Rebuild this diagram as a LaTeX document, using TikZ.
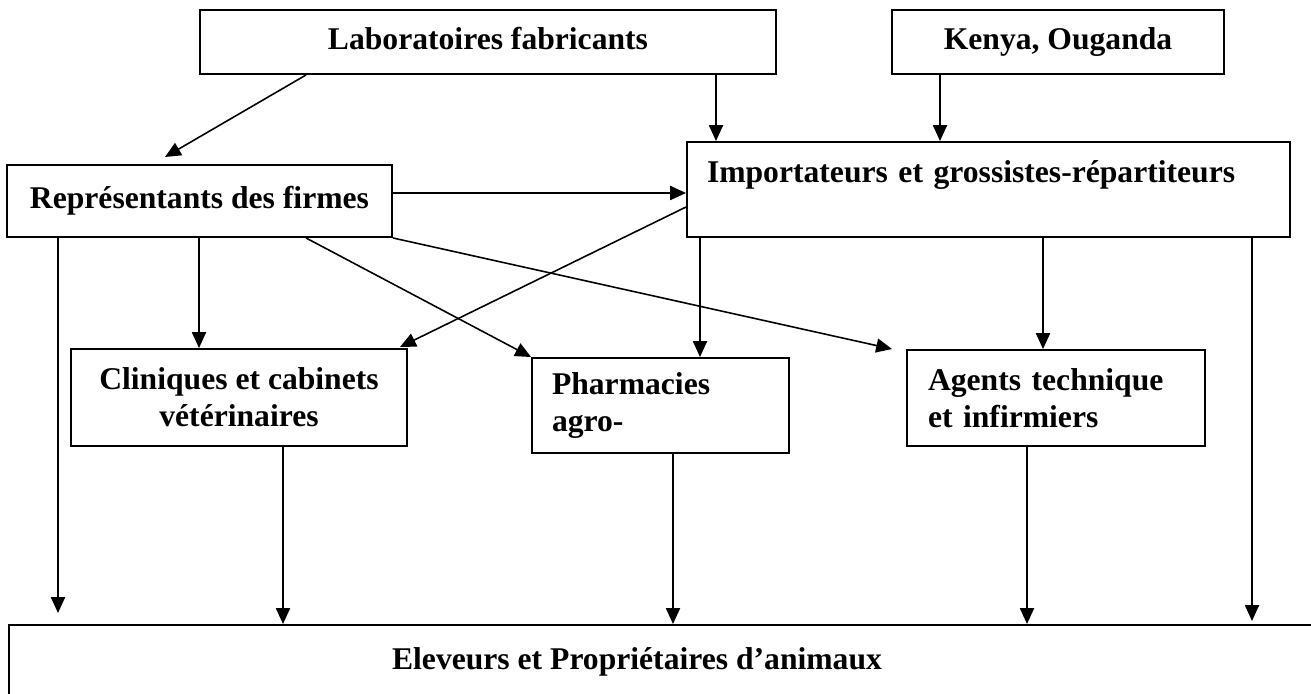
\documentclass[tikz,border=0pt]{standalone}
\usepackage{fontspec}
\setmainfont{Liberation Serif}
\usepackage{tikz}
\usetikzlibrary{arrows.meta}
\newcommand{\pxu}{0.02cm}
\tikzset{
        boxtxt/.style={font=\bfseries\fontsize{18}{21}\selectfont},
        box/.style={boxtxt, draw=black, line width=1.1pt, inner sep=0pt, align=center},
        oneline/.style={text height=12.6pt, text depth=4pt},
        arr/.style={-{Triangle[length=9pt,width=8pt]}, line width=0.9pt},
    }

\begin{document}
\begin{tikzpicture}[x=0.02cm, y=-0.02cm]
    \useasboundingbox (0,0) rectangle (1311,693);

    % boxes
    \node[box, oneline, minimum width=576*\pxu, minimum height=64*\pxu] (labo) at (488,42) {Laboratoires fabricants};
    \node[box, oneline, minimum width=332*\pxu, minimum height=64*\pxu] (kenya) at (1058,42) {Kenya, Ouganda};
    \node[box, oneline, minimum width=385*\pxu, minimum height=72*\pxu] (repr) at (199.5,201) {Représentants des firmes};
    \node[box, minimum width=603*\pxu, minimum height=95*\pxu, align=left, text width=563*\pxu, inner xsep=20*\pxu] (imp) at (988.5,189.5) {Importateurs et grossistes-répartiteurs\\ \mbox{}};
    \node[box, minimum width=336*\pxu, minimum height=97*\pxu] (cli) at (239,397.5) {Cliniques et cabinets\\vétérinaires};
    \node[box, minimum width=257*\pxu, minimum height=95*\pxu, align=left, text width=217*\pxu, inner xsep=20*\pxu] (pharm) at (660.5,405.5) {Pharmacies\\agro-};
    \node[box, minimum width=298*\pxu, minimum height=96*\pxu, align=left, text width=256*\pxu, inner xsep=21*\pxu] (agent) at (1056,398) {Agents technique\\et infirmiers};
    \node[box, anchor=north west, minimum width=1340*\pxu, minimum height=120*\pxu] (elev) at (8,624) {};
    \node[boxtxt, oneline] (elevtxt) at (637,662) {Eleveurs et Propriétaires d’animaux};

    % columns and free ends
    \coordinate (vRepr) at (58,0);
    \coordinate (vCli) at (199,0);
    \coordinate (dCli) at (283,0);
    \coordinate (dPharm) at (673,0);
    \coordinate (vPharm) at (700,0);
    \coordinate (vLabo) at (716,0);
    \coordinate (vKenya) at (940,0);
    \coordinate (dAgent) at (1027,0);
    \coordinate (vAgent) at (1043,0);
    \coordinate (vImp) at (1252,0);
    \coordinate (hRepr) at (0,193);
    \coordinate (hImp) at (0,207);
    \coordinate (tipRepr) at (165,157);
    \coordinate (tipCli) at (400,347);
    \coordinate (tipAgent) at (892,349);
    \coordinate (endRepr) at (58,613);
    \coordinate (endImp) at (1252,621);

    % top level
    \draw[arr] (labo.south west) ++(107,0) -- (tipRepr);
    \draw[arr] (labo.south -| vLabo) -- (imp.north -| vLabo);
    \draw[arr] (kenya.south -| vKenya) -- (imp.north -| vKenya);
    \draw[arr] (repr.east |- hRepr) -- (imp.west |- hRepr);

    % from representants
    \draw[arr] (repr.south -| vRepr) -- (endRepr);
    \draw[arr] (repr.south -| vCli) -- (cli.north -| vCli);
    \draw[arr] (repr.south west) ++(300,0) -- (pharm.north west);
    \draw[arr] (repr.south east) -- (tipAgent);

    % from importateurs
    \draw[arr] (imp.west |- hImp) -- (tipCli);
    \draw[arr] (imp.south -| vPharm) -- (pharm.north -| vPharm);
    \draw[arr] (imp.south -| vAgent) -- (agent.north -| vAgent);
    \draw[arr] (imp.south -| vImp) -- (endImp);

    % down to eleveurs
    \draw[arr] (cli.south -| dCli) -- (elev.north -| dCli);
    \draw[arr] (pharm.south -| dPharm) -- (elev.north -| dPharm);
    \draw[arr] (agent.south -| dAgent) -- (elev.north -| dAgent);

\end{tikzpicture}
\end{document}
